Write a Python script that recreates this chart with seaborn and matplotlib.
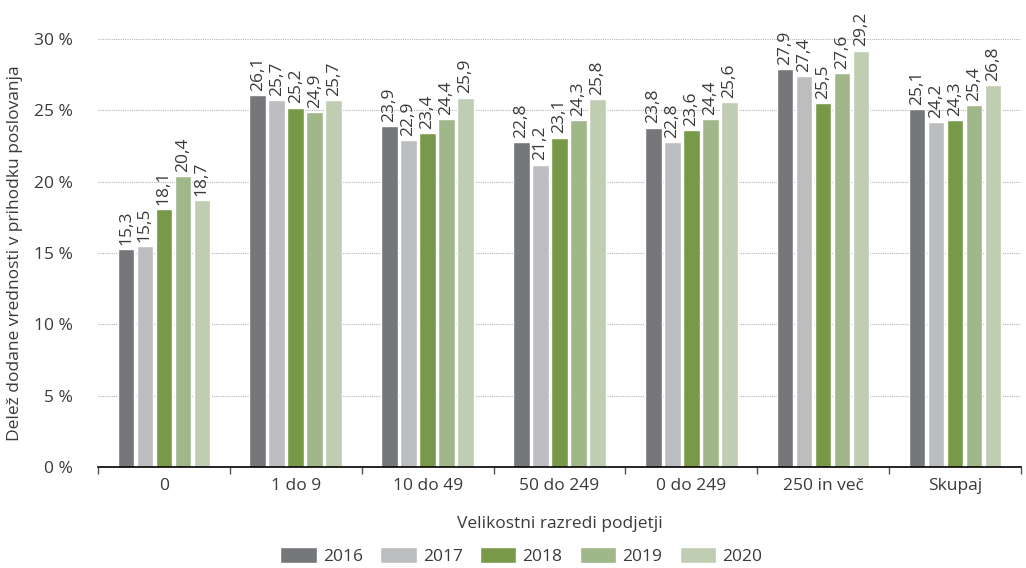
import matplotlib
matplotlib.use("Agg")
import matplotlib.pyplot as plt
import seaborn as sns
import pandas as pd
import numpy as np
from matplotlib.ticker import FixedLocator, FuncFormatter

categories = ["0", "1 do 9", "10 do 49", "50 do 249", "0 do 249", "250 in več", "Skupaj"]
years = ["2016", "2017", "2018", "2019", "2020"]
values = {
    "2016": [15.3, 26.1, 23.9, 22.8, 23.8, 27.9, 25.1],
    "2017": [15.5, 25.7, 22.9, 21.2, 22.8, 27.4, 24.2],
    "2018": [18.1, 25.2, 23.4, 23.1, 23.6, 25.5, 24.3],
    "2019": [20.4, 24.9, 24.4, 24.3, 24.4, 27.6, 25.4],
    "2020": [18.7, 25.7, 25.9, 25.8, 25.6, 29.2, 26.8],
}
colors = ["#76777b", "#bcbdbf", "#789a48", "#a0b78a", "#bfcdb3"]

rows = []
for y in years:
    for c, v in zip(categories, values[y]):
        rows.append({"razred": c, "leto": y, "delez": v})
df = pd.DataFrame(rows)

sns.set_theme(style="white")
plt.rcParams["font.family"] = ["Open Sans", "DejaVu Sans"]
text_color = "#3a3a3a"

fig = plt.figure(figsize=(10.26, 5.68), dpi=100)
ax = fig.add_axes([0.0955, 0.178, 0.8995, 0.753])

sns.barplot(data=df, x="razred", y="delez", hue="leto", order=categories,
            hue_order=years, palette=colors, width=0.72, gap=0.12,
            saturation=1, ax=ax, legend=True)

for container, y in zip(ax.containers, years):
    labels = [f"{v:.1f}".replace(".", ",") for v in values[y]]
    ax.bar_label(container, labels=labels, rotation=90, padding=3,
                 fontsize=12.5, color=text_color)

ax.set_ylim(0, 30)
ax.set_xlim(-0.5, len(categories) - 0.5)
ax.yaxis.set_major_locator(FixedLocator(np.arange(0, 31, 5)))
ax.yaxis.set_major_formatter(FuncFormatter(lambda v, p: f"{int(v)} %"))
ax.yaxis.grid(True, linestyle=(0, (1, 1)), color="#b4b4b4", linewidth=0.8)
ax.set_axisbelow(True)

for s in ["top", "right", "left"]:
    ax.spines[s].set_visible(False)
ax.spines["bottom"].set_color("black")
ax.spines["bottom"].set_linewidth(1.2)

ax.set_xticks(range(len(categories)))
ax.set_xticklabels(categories)
ax.set_xticks(np.arange(-0.5, len(categories), 1), minor=True)
ax.tick_params(axis="x", which="major", length=0, pad=8, labelsize=12.5, labelcolor=text_color)
ax.tick_params(axis="x", which="minor", length=5, width=1, color="#555555", bottom=True)
ax.tick_params(axis="y", length=0, pad=18, labelsize=12.5, labelcolor=text_color)

ax.set_xlabel("Velikostni razredi podjetji", fontsize=12.5, color=text_color, labelpad=16)
ax.set_ylabel("Delež dodane vrednosti v prihodku poslovanja", fontsize=12.5,
              color=text_color, labelpad=8)

handles, lbls = ax.get_legend_handles_labels()
ax.get_legend().remove()
fig.legend(handles, lbls, loc="lower center", bbox_to_anchor=(0.508, -0.022),
           ncol=5, frameon=False, fontsize=12.5, handlelength=2.1, handleheight=1.05,
           columnspacing=1.0, handletextpad=0.35, labelcolor=text_color)

fig.savefig("out.png", dpi=100)
